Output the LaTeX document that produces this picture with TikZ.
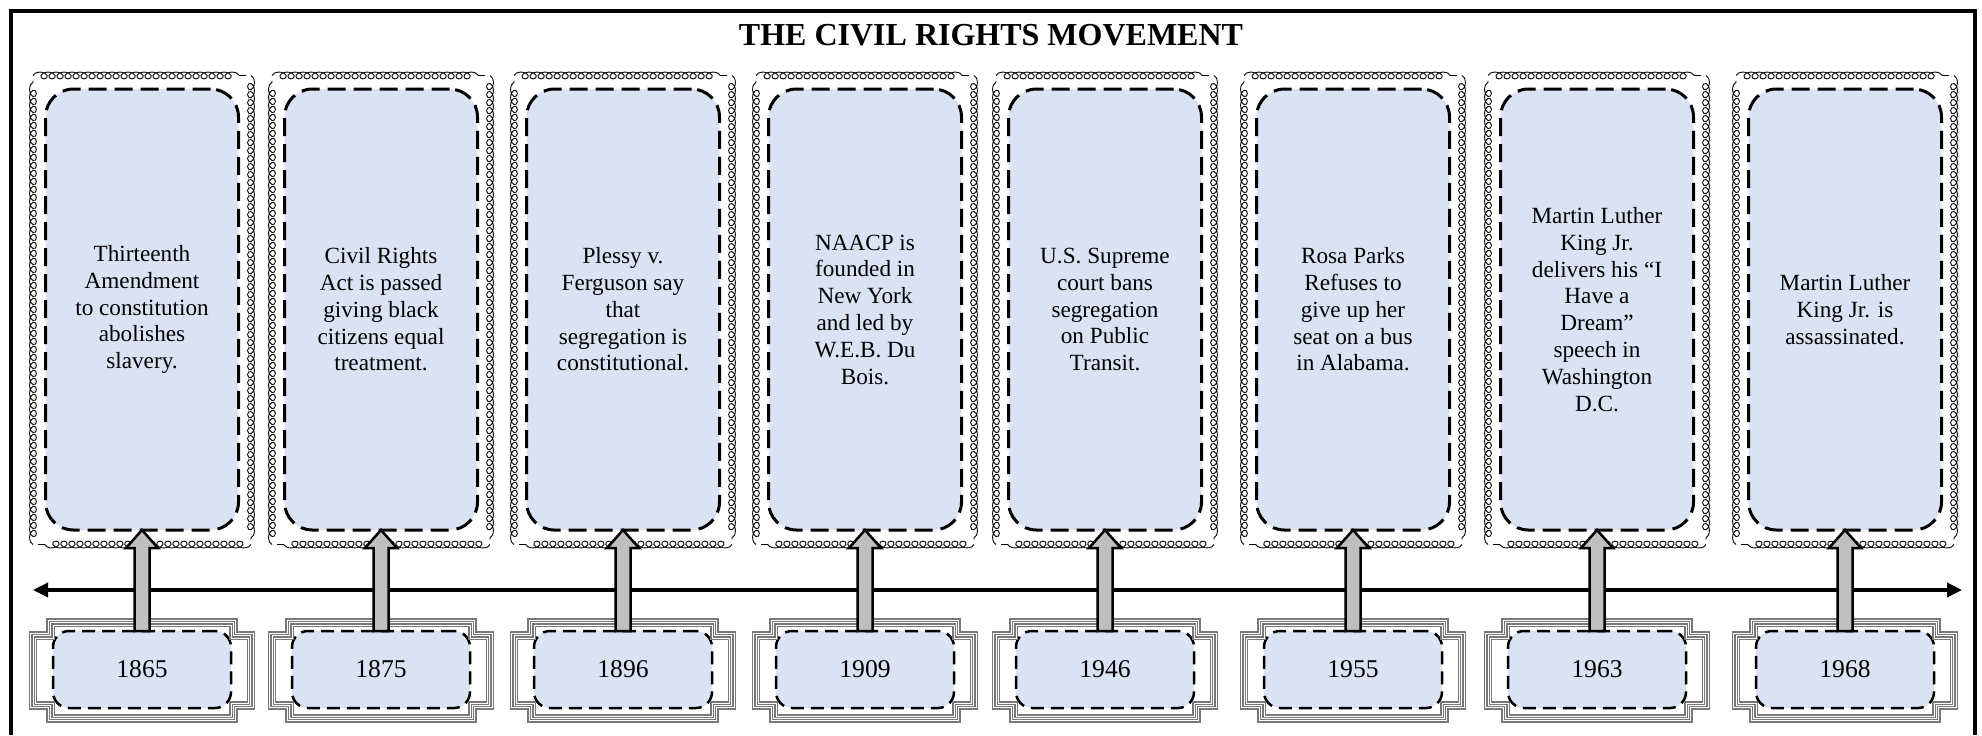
\documentclass[tikz,border=0pt]{standalone}
\usepackage{fontspec}
\setmainfont{Liberation Serif}
\usetikzlibrary{arrows.meta,calc,decorations.pathmorphing}
\definecolor{evblue}{RGB}{218,227,243}
\definecolor{arrowgray}{RGB}{191,191,191}
\definecolor{framegray}{RGB}{120,120,120}

\begin{document}
\begin{tikzpicture}[x=0.5pt,y=-0.5pt,
	evbox/.style={draw, fill=evblue, line width=1.5pt, dash pattern=on 9pt off 4pt,
		rounded corners=14pt, minimum width=96.5pt, minimum height=220.5pt,
		inner sep=0pt, outer sep=0pt, align=center, font=\fontsize{11.6}{13.4}\selectfont},
	loopline/.style={line width=0.45pt, decorate,
		decoration={coil, amplitude=1.7pt, segment length=4pt, aspect=1.5}},
	yrbox/.style={draw, fill=evblue, line width=1.25pt, dash pattern=on 6.5pt off 3.5pt,
		rounded corners=8pt, minimum width=89pt, minimum height=38.5pt,
		inner sep=0pt, outer sep=0pt, font=\fontsize{12.8}{15}\selectfont},
	yrline/.style={draw=framegray, line width=0.7pt},
	blockarrow/.style={draw, fill=arrowgray, line width=1.25pt, line join=miter},
	timeline/.style={line width=1.7pt, {Triangle[length=7.5pt,width=7pt]}-{Triangle[length=7.5pt,width=7pt]}}
	]
	\useasboundingbox (0,0) rectangle (1982,735);
	\newcommand\Event[4]{% name, x, year, text
		\node[evbox] (ev#1) at (#2,309.5) {#4};
		% looped frame, one side at a time
		\coordinate (nw#1) at ($(ev#1.north west)+(-12.5,-13.5)$);
		\coordinate (se#1) at ($(ev#1.south east)+(12.5,14.5)$);
		\draw[loopline] (nw#1) -- ($(se#1 |- nw#1)+(-5,0)$);
		\draw[loopline] (se#1 |- nw#1) -- ($(se#1)+(0,-5)$);
		\draw[loopline] (se#1) -- ($(nw#1 |- se#1)+(5,0)$);
		\draw[loopline] (nw#1 |- se#1) -- ($(nw#1)+(0,5)$);
		\node[yrbox] (yr#1) at (#2,669.5) {#3};
		\begin{scope}[shift={(yr#1.center)}]
			\foreach \off in {0,2.4,4.8,7.2}
				\draw[yrline] (-95+\off,-50.5+\off) -| (95-\off,-37.5+\off) -| (112.5-\off,39.5-\off)
					-| (95-\off,52.5-\off) -| (-95+\off,39.5-\off) -| (-112.5+\off,-37.5+\off)
					-| (-95+\off,-50.5+\off) -- cycle;
		\end{scope}
		\draw[blockarrow] ($(yr#1.north)+(-7.5,0)$) -- ($(ev#1.south)+(-7.5,18)$) -- ($(ev#1.south)+(-16,18)$)
			-- (ev#1.south) -- ($(ev#1.south)+(16,18)$) -- ($(ev#1.south)+(7.5,18)$) -- ($(yr#1.north)+(7.5,0)$) -- cycle;
	}

	% frame, open at the bottom
	\draw[line width=2pt] (10.5,735) -- (10.5,10.5) -- (1974.5,10.5) -- (1974.5,735);
	\node[font=\fontsize{16}{19}\selectfont\bfseries] (title) at (991,35) {THE CIVIL RIGHTS MOVEMENT};

	% timeline
	\coordinate (tl-w) at (33,590);
	\coordinate (tl-e) at (1962,590);
	\draw[timeline] (tl-w) -- (tl-e);

	\Event{1}{142}{1865}{Thirteenth\\Amendment\\to constitution\\abolishes\\slavery.}
	\Event{2}{381}{1875}{Civil Rights\\Act is passed\\giving black\\citizens equal\\treatment.}
	\Event{3}{623}{1896}{Plessy v.\\Ferguson say\\that\\segregation is\\constitutional.}
	\Event{4}{865}{1909}{NAACP is\\founded in\\New York\\and led by\\W.E.B. Du\\Bois.}
	\Event{5}{1105}{1946}{U.S. Supreme\\court bans\\segregation\\on Public\\Transit.}
	\Event{6}{1353}{1955}{Rosa Parks\\Refuses to\\give up her\\seat on a bus\\in Alabama.}
	\Event{7}{1597}{1963}{Martin Luther\\King Jr.\\delivers his “I\\Have a\\Dream”\\speech in\\Washington\\D.C.}
	\Event{8}{1845}{1968}{Martin Luther\\King Jr. is\\assassinated.}
\end{tikzpicture}
\end{document}
